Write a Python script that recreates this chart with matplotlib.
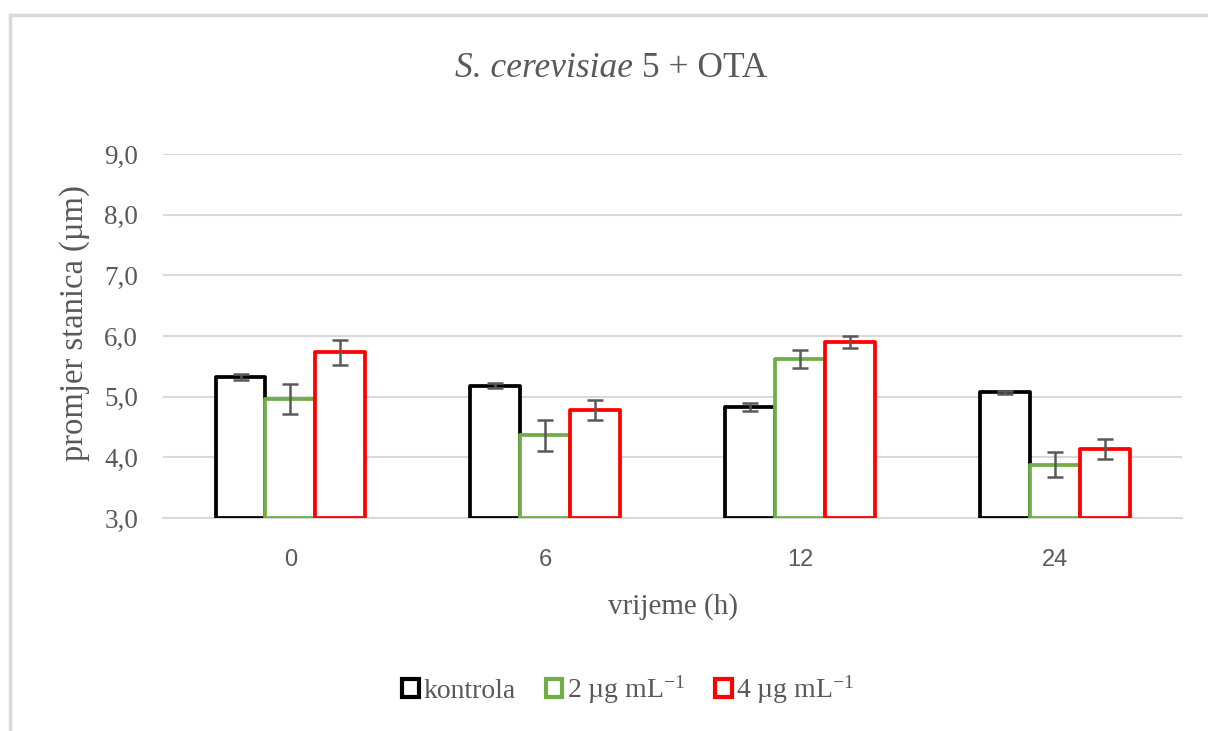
import matplotlib
matplotlib.use("Agg")
import matplotlib.pyplot as plt
from matplotlib.lines import Line2D
from matplotlib.patches import Patch
import numpy as np

# data
times = ["0", "6", "12", "24"]
series = ["kontrola", "2 µg mL$^{-1}$", "4 µg mL$^{-1}$"]
kontrola = [5.33, 5.18, 4.83, 5.07]
kontrola_err = [0.05, 0.04, 0.06, 0.03]
ota2 = [4.96, 4.36, 5.62, 3.88]
ota2_err = [0.25, 0.25, 0.15, 0.21]
ota4 = [5.73, 4.78, 5.90, 4.14]
ota4_err = [0.20, 0.16, 0.10, 0.16]
colors = ["#000000", "#70AD47", "#FF0000"]

plt.rcParams["font.family"] = ["Liberation Serif", "DejaVu Serif"]
plt.rcParams["mathtext.fontset"] = "custom"
plt.rcParams["mathtext.rm"] = "Liberation Serif"
plt.rcParams["mathtext.it"] = "Liberation Serif:italic"

grey = "#595959"
fig = plt.figure(figsize=(12.08, 7.31), dpi=100)
ax = fig.add_axes([0.135, 0.2914, 0.8435, 0.4979])

x = np.arange(len(times))
w = 0.196
vals = [kontrola, ota2, ota4]
errs = [kontrola_err, ota2_err, ota4_err]
for i, (v, e, c) in enumerate(zip(vals, errs, colors)):
    pos = x + (i - 1) * w
    ax.bar(pos, np.array(v) - 3.0, bottom=3.0, width=w, facecolor="white",
           edgecolor=c, linewidth=2.7, joinstyle="round", zorder=3)
    ax.errorbar(pos, v, yerr=e, fmt="none", ecolor=grey, elinewidth=1.8,
                capsize=6, capthick=1.8, zorder=4)

ax.set_xlim(-0.5, len(times) - 0.5)
ax.set_ylim(3.0, 9.0)
yt = np.arange(3, 9.01, 1.0)
ax.set_yticks(yt)
ax.set_yticklabels([f"{t:.1f}".replace(".", ",") for t in yt],
                   fontsize=19.5, color=grey)
ax.set_xticks(x)
ax.set_xticklabels(times, fontsize=17, color=grey, family=["Liberation Sans"])
ax.tick_params(axis="x", length=0, pad=22)
ax.tick_params(axis="y", length=0, pad=18)
ax.grid(axis="y", color="#D9D9D9", linewidth=1.5, zorder=0)
for s in ["top", "right", "left"]:
    ax.spines[s].set_visible(False)
ax.spines["bottom"].set_color("#D9D9D9")
ax.spines["bottom"].set_linewidth(1.5)

ax.set_xlabel("vrijeme (h)", fontsize=21, color=grey, labelpad=16)
ax.set_ylabel("promjer stanica (µm)", fontsize=23.5, color=grey)
ax.yaxis.set_label_coords(-0.072, 0.535)

# title: italic species name + roman rest, centred together
t1 = fig.text(0, 0.895, "S. cerevisiae", fontsize=25.5, fontstyle="italic",
              color=grey, ha="left", va="baseline")
t2 = fig.text(0, 0.895, " 5 + OTA", fontsize=25.5, color=grey,
              ha="left", va="baseline")
fig.canvas.draw()
w1 = t1.get_window_extent().width
w2 = t2.get_window_extent().width
figw = fig.bbox.width
x0 = 0.506 * figw - (w1 + w2) / 2
t1.set_x(x0 / figw)
t2.set_x((x0 + w1) / figw)

handles = [Patch(facecolor="white", edgecolor=c, linewidth=3) for c in colors]
fig.legend(handles, series, loc="center", bbox_to_anchor=(0.52, 0.056), ncol=3,
           frameon=False, fontsize=20, handlelength=0.6, handleheight=0.6,
           handletextpad=0.15, columnspacing=1.1, labelcolor=grey)

# chart border (clipped by image edge)
fig.add_artist(Line2D([9.5 / 1208, 1.0], [1 - 14.5 / 731] * 2, color="#D9D9D9",
                      linewidth=2.5, transform=fig.transFigure))
fig.add_artist(Line2D([9.5 / 1208] * 2, [0.0, 1 - 14.5 / 731], color="#D9D9D9",
                      linewidth=2.5, transform=fig.transFigure))

fig.savefig("out.png", dpi=100, facecolor="white")
